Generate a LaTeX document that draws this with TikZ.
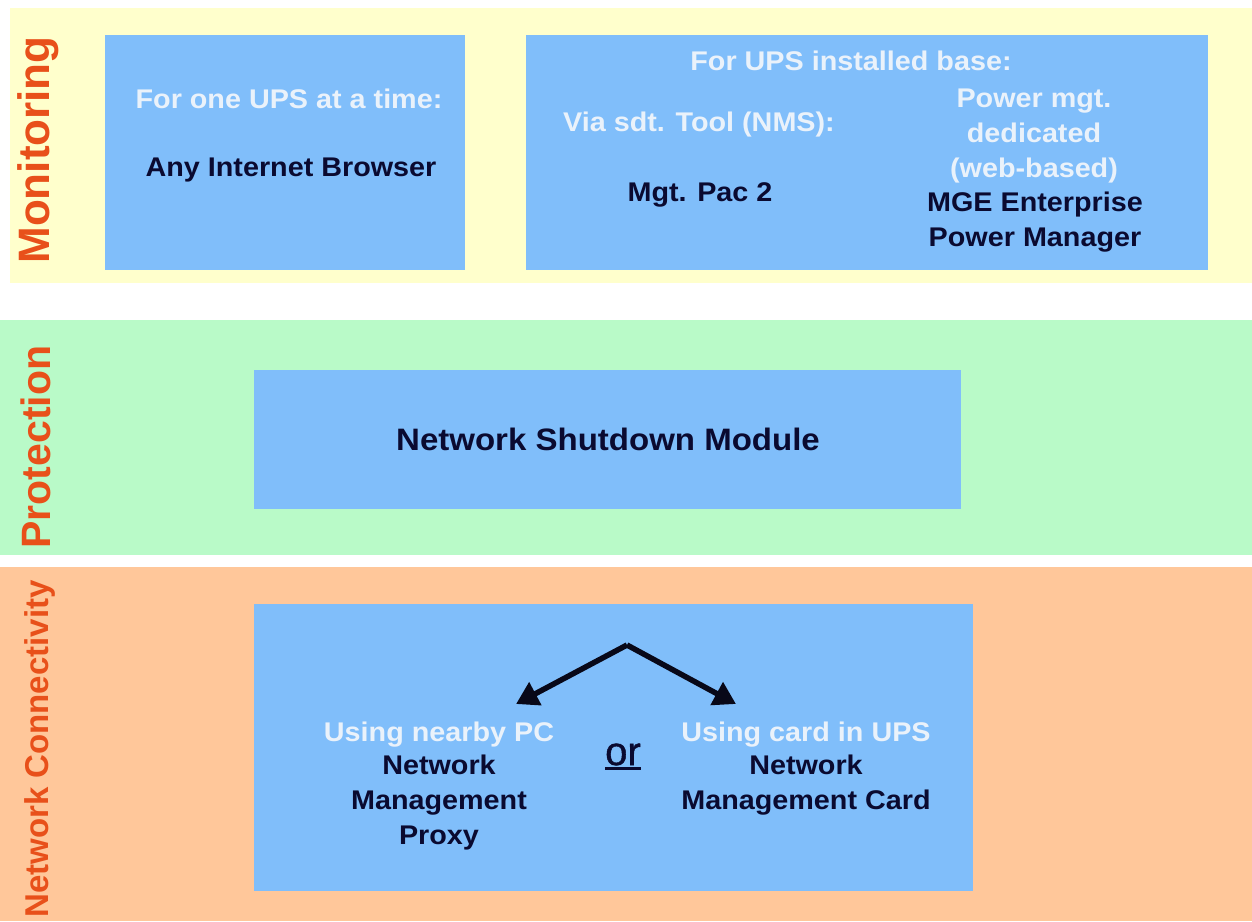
\documentclass[tikz,border=0pt]{standalone}
\usepackage{fontspec}
\setmainfont{Liberation Sans}
\newfontfamily\widefont[FakeStretch=1.065]{Liberation Sans}
\newfontfamily\orfont[FakeBold=1]{Liberation Sans}
\usetikzlibrary{arrows.meta}
\definecolor{bandY}{HTML}{FFFFCC}
\definecolor{bandG}{HTML}{B9FAC8}
\definecolor{bandO}{HTML}{FFC79A}
\definecolor{boxB}{HTML}{80BEFA}
\definecolor{inkD}{HTML}{0A0A30}
\definecolor{inkK}{HTML}{080818}
\definecolor{inkW}{HTML}{EAF2FA}
\definecolor{inkO}{HTML}{E8501A}
\tikzset{
  x=1pt,y=-1pt,
  band/.style={anchor=north west,inner sep=0pt,outer sep=0pt},
  panel/.style={anchor=north west,inner sep=0pt,outer sep=0pt,fill=boxB},
  dark/.style={text=inkD,font=\widefont\fontsize{27}{35}\selectfont\bfseries,align=center,inner sep=0pt},
  light/.style={text=inkW,font=\widefont\fontsize{27}{35}\selectfont\bfseries,align=center,inner sep=0pt},
  side/.style={text=inkO,rotate=90,inner sep=0pt,anchor=base},
  fork/.style={draw=inkK,line width=5.5pt,-{Triangle[length=22pt,width=25pt]}}
}
\begin{document}
\begin{tikzpicture}
\useasboundingbox (0,0) rectangle (1252,921);
\node[band,fill=bandY,minimum width=1242pt,minimum height=275pt] (ybar) at (10,8) {};
\node[band,fill=bandG,minimum width=1252pt,minimum height=235pt] (gbar) at (0,320) {};
\node[band,fill=bandO,minimum width=1252pt,minimum height=354pt] (obar) at (0,567) {};
\node[panel,minimum width=360pt,minimum height=235pt] (p1) at (105,35) {};
\node[panel,minimum width=682pt,minimum height=235pt] (p2) at (526,35) {};
\node[panel,minimum width=707pt,minimum height=139pt] (p3) at (254,370) {};
\node[panel,minimum width=719pt,minimum height=287pt] (p4) at (254,604) {};
\node[side,font=\fontsize{44}{46}\selectfont\bfseries] (s1) at (49,150) {Monitoring};
\node[side,font=\fontsize{41}{45}\selectfont\bfseries] (s2) at (50,447) {Protection};
\node[side,font=\fontsize{33}{36}\selectfont\bfseries] (s3) at (48,749) {Network Connectivity};
\node[light] (t1) at (289,99) {For one UPS at a time:};
\node[dark] (t2) at (291,170) {Any Internet Browser};
\node[light] (t3) at (851,61) {For UPS installed base:};
\node[light] (t4) at (699,125) {Via sdt. Tool (NMS):};
\node[light] (t5) at (1034,136) {Power mgt.\\dedicated\\(web-based)};
\node[dark] (t6) at (700,195) {Mgt. Pac 2};
\node[dark] (t7) at (1035,222) {MGE Enterprise\\Power Manager};
\node[dark,font=\widefont\fontsize{31}{35}\selectfont\bfseries] (t8) at (608,439) {Network Shutdown Module};
\node[light] (t9) at (439,735) {Using nearby PC};
\node[dark] (t10) at (439,803) {Network\\Management\\Proxy};
\node[light] (t11) at (806,735) {Using card in UPS};
\node[dark] (t12) at (806,785) {Network\\Management Card};
\node[text=inkD,inner sep=0pt,font=\orfont\fontsize{40}{40}\selectfont] (t13) at (623,757) {\vtop{\hbox{or}\kern2pt\hrule height 3pt}};
\coordinate (apex) at (627,645);
\coordinate (tipL) at (516,704);
\coordinate (tipR) at (736,704);
\draw[fork] (apex) -- (tipL);
\draw[fork] (apex) -- (tipR);
\end{tikzpicture}
\end{document}
